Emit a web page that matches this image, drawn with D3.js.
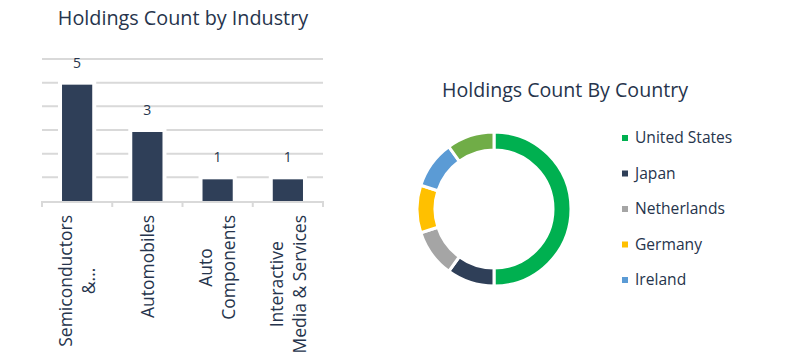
<!DOCTYPE html>
<html>
<head>
<meta charset="utf-8">
<script src="https://cdn.jsdelivr.net/npm/d3@7"></script>
<style>
  body { margin: 0; background: #fff; }
  svg { font-family: "Open Sans", sans-serif; }
</style>
</head>
<body>
<div id="chart"></div>
<script>
// bar chart data
var industries = ["Semiconductors & ...", "Automobiles", "Auto Components", "Interactive Media & Services"];
var industryLines = [["Semiconductors", "&..."], ["Automobiles"], ["Auto", "Components"], ["Interactive", "Media & Services"]];
var industryCounts = [5, 3, 1, 1];

// donut data
var countries = ["United States", "Japan", "Netherlands", "Germany", "Ireland", "Taiwan"];
var countryCounts = [5, 1, 1, 1, 1, 1];
var countryColors = ["#00b050", "#2f3f58", "#a5a5a5", "#ffc000", "#5b9bd5", "#70ad47"];

var textColor = "#26344c";

var svg = d3.select("#chart").append("svg")
    .attr("width", 795)
    .attr("height", 362);

// ---- bar chart ----
var x = d3.scaleBand()
    .domain(industries)
    .range([42, 323])
    .paddingInner(0.57)
    .paddingOuter(0.285);

var y = d3.scaleLinear()
    .domain([0, 6])
    .range([201, 59]);

svg.append("text")
    .attr("x", 183)
    .attr("y", 25)
    .attr("text-anchor", "middle")
    .attr("font-size", 19.8)
    .attr("fill", textColor)
    .text("Holdings Count by Industry");

// gridlines
svg.append("g")
    .selectAll("line")
    .data(d3.range(1, 7))
    .enter()
    .append("line")
    .attr("x1", 42)
    .attr("x2", 323)
    .attr("y1", d => y(d))
    .attr("y2", d => y(d))
    .attr("stroke", "#d9d9d9")
    .attr("stroke-width", 2);

// white halo round bars, then bars
svg.append("g")
    .selectAll("rect")
    .data(industryCounts)
    .enter()
    .append("rect")
    .attr("x", (d, i) => x(industries[i]) - 4)
    .attr("y", d => y(d) - 4)
    .attr("width", x.bandwidth() + 8)
    .attr("height", d => y(0) - y(d) + 4)
    .attr("fill", "#fff");

svg.append("g")
    .selectAll("rect")
    .data(industryCounts)
    .enter()
    .append("rect")
    .attr("x", (d, i) => x(industries[i]))
    .attr("y", d => y(d) + 2)
    .attr("width", x.bandwidth())
    .attr("height", d => y(0) - y(d) - 2)
    .attr("fill", "#2f3f58");

// value labels
svg.append("g")
    .selectAll("text")
    .data(industryCounts)
    .enter()
    .append("text")
    .attr("x", (d, i) => x(industries[i]) + x.bandwidth() / 2)
    .attr("y", d => y(d) - 15)
    .attr("text-anchor", "middle")
    .attr("font-size", 14)
    .attr("fill", textColor)
    .text(d => d);

// x axis with ticks at category boundaries
var axis = svg.append("g");
axis.append("line")
    .attr("x1", 42).attr("x2", 323)
    .attr("y1", 202).attr("y2", 202)
    .attr("stroke", "#d9d9d9")
    .attr("stroke-width", 2);

axis.selectAll(".tick")
    .data(d3.range(industries.length + 1))
    .enter()
    .append("line")
    .attr("x1", d => 42 + d * (281 / industries.length))
    .attr("x2", d => 42 + d * (281 / industries.length))
    .attr("y1", 201)
    .attr("y2", 207)
    .attr("stroke", "#d9d9d9")
    .attr("stroke-width", 2);

// rotated category labels
industryLines.forEach(function(lines, i) {
    var cx = x(industries[i]) + x.bandwidth() / 2;
    var g = svg.append("g")
        .attr("transform", "translate(" + cx + ",215) rotate(-90)");
    var lineH = 23;
    var texts = lines.map(function(l, j) {
        return g.append("text")
            .attr("y", (j - (lines.length - 1) / 2) * lineH)
            .attr("dy", "0.35em")
            .attr("text-anchor", "middle")
            .attr("font-size", 17.5)
            .attr("fill", textColor)
            .text(l);
    });
    var maxLen = d3.max(texts, t => t.node().getComputedTextLength());
    texts.forEach(t => t.attr("x", -maxLen / 2));
});

// ---- donut chart ----
svg.append("text")
    .attr("x", 565)
    .attr("y", 97)
    .attr("text-anchor", "middle")
    .attr("font-size", 19.6)
    .attr("fill", textColor)
    .text("Holdings Count By Country");

var pie = d3.pie().sort(null).value(d => d);
var arc = d3.arc().innerRadius(59).outerRadius(77);

svg.append("g")
    .attr("transform", "translate(494,209)")
    .selectAll("path")
    .data(pie(countryCounts))
    .enter()
    .append("path")
    .attr("d", arc)
    .attr("fill", (d, i) => countryColors[i])
    .attr("stroke", "#fff")
    .attr("stroke-width", 3);

// legend (only five entries fit)
var legend = svg.append("g")
    .selectAll("g")
    .data(countries.slice(0, 5))
    .enter()
    .append("g")
    .attr("transform", (d, i) => "translate(622," + (138 + i * 35.5) + ")");

legend.append("rect")
    .attr("x", 0)
    .attr("y", -3)
    .attr("width", 6)
    .attr("height", 6)
    .attr("fill", (d, i) => countryColors[i]);

legend.append("text")
    .attr("x", 13)
    .attr("dy", "0.35em")
    .attr("font-size", 15.6)
    .attr("fill", textColor)
    .text(d => d);
</script>
</body>
</html>
